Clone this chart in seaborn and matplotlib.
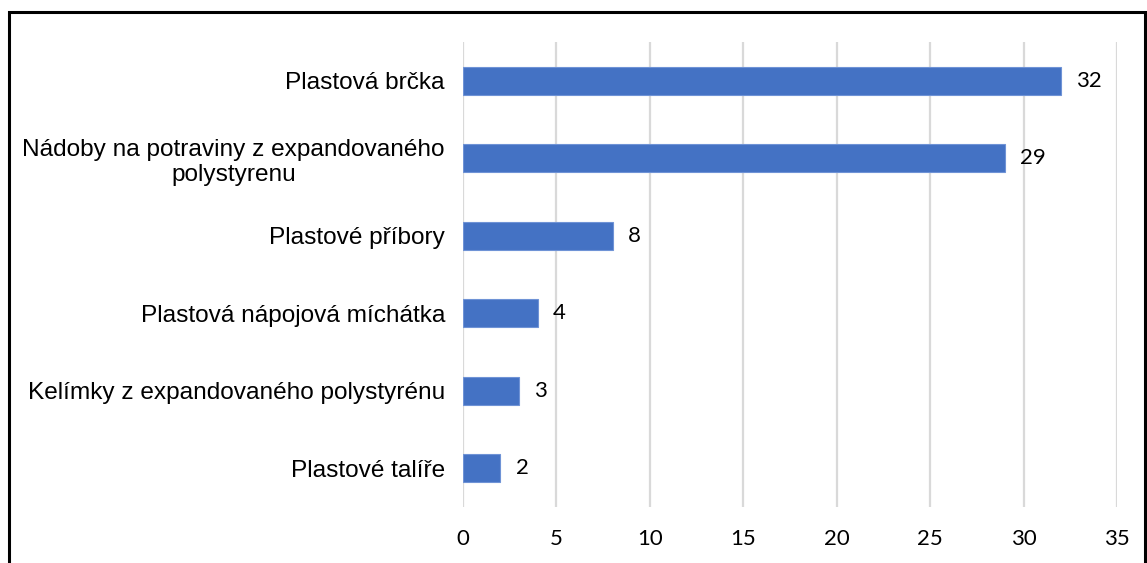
import matplotlib
matplotlib.use('Agg')
import matplotlib.pyplot as plt
import pandas as pd
import seaborn as sns
from matplotlib.patches import Rectangle

categories = [
    'Plastová brčka',
    'Nádoby na potraviny z expandovaného\npolystyrenu',
    'Plastové příbory',
    'Plastová nápojová míchátka',
    'Kelímky z expandovaného polystyrénu',
    'Plastové talíře',
]
values = [32, 29, 8, 4, 3, 2]
xticks = [0, 5, 10, 15, 20, 25, 30, 35]

df = pd.DataFrame({'kategorie': categories, 'pocet': values})

sns.set_style('white')
plt.rcParams['font.family'] = ['Liberation Sans', 'DejaVu Sans']
plt.rcParams['text.color'] = 'black'
plt.rcParams['xtick.color'] = 'black'
plt.rcParams['ytick.color'] = 'black'

fig = plt.figure(figsize=(11.47, 5.63), dpi=100)
ax = fig.add_axes([0.4037, 0.0995, 0.5701, 0.8259])

sns.barplot(data=df, x='pocet', y='kategorie', color='#4472C4', width=0.36,
            edgecolor='#6f93d6', linewidth=0.8, saturation=1, ax=ax, zorder=3)

ax.set_xlim(0, 35)
ax.set_ylim(5.5, -0.5)
ax.set_xticks(xticks)
ax.set_xticklabels([str(t) for t in xticks], family=['Lato', 'DejaVu Sans'], fontsize=16)
ax.set_yticks(range(len(categories)))
ax.set_yticklabels(categories, fontsize=17.6, multialignment='center')
ax.tick_params(axis='y', length=0, pad=13)
ax.tick_params(axis='x', length=0, pad=16)
ax.set_xlabel('')
ax.set_ylabel('')
for s in ax.spines.values():
    s.set_visible(False)
ax.grid(axis='x', color='#D9D9D9', linewidth=1.6, zorder=0)
ax.set_axisbelow(True)

for i, v in enumerate(values):
    ax.annotate(str(v), (v, i), xytext=(11, 0), textcoords='offset points',
                va='center', ha='left', fontsize=16, family=['Lato', 'DejaVu Sans'])

fig.patches.append(Rectangle((0.0075, -0.05), 0.9905, 1.029, transform=fig.transFigure,
                             fill=False, edgecolor='black', linewidth=2.2))

fig.savefig('out.png', dpi=100)
